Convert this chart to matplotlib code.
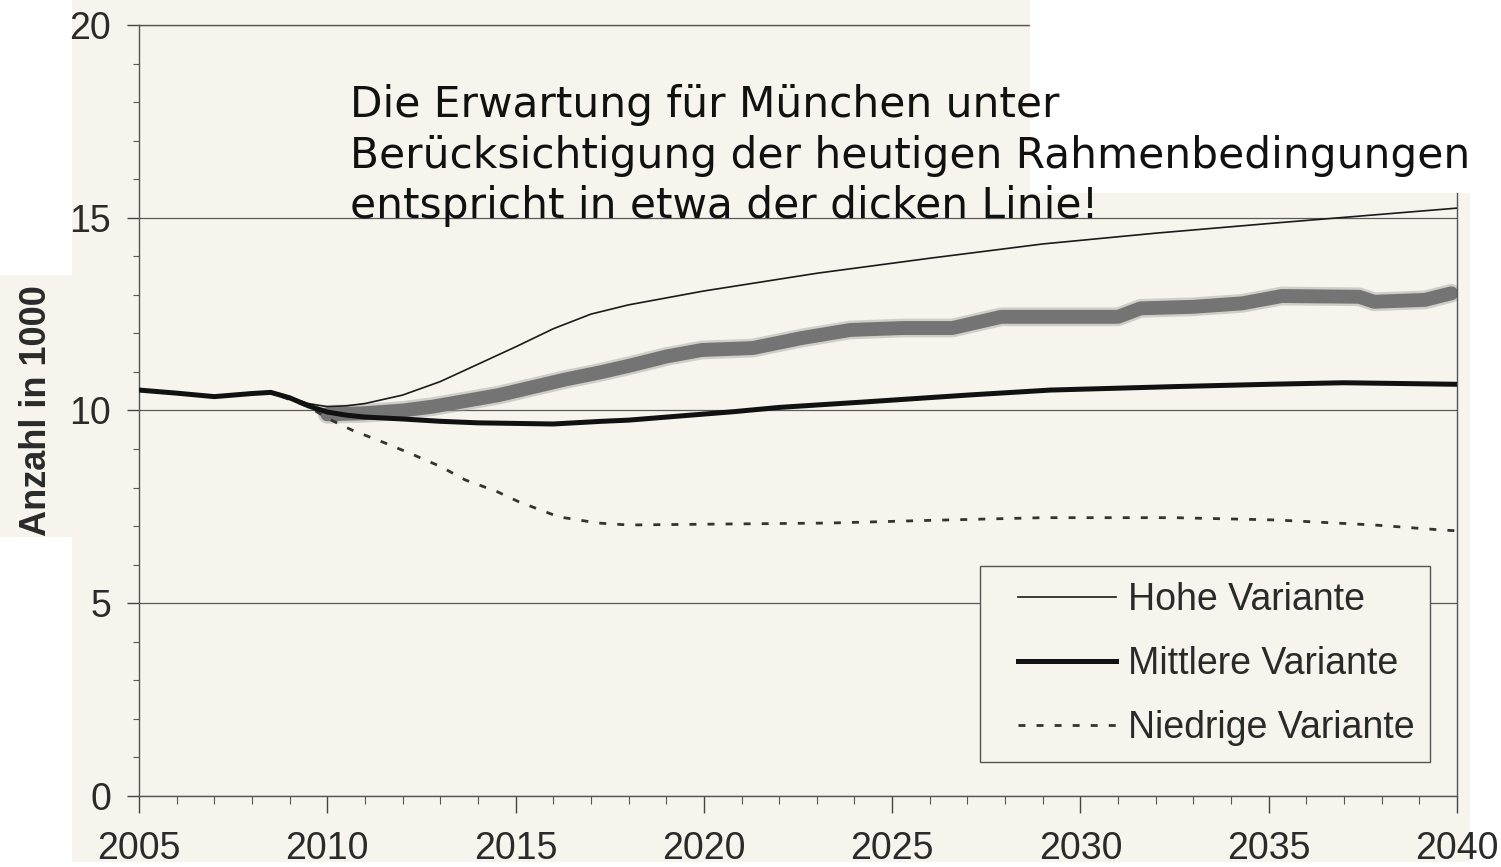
import numpy as np
import matplotlib
matplotlib.use("Agg")
import matplotlib.pyplot as plt
from matplotlib.patches import Rectangle
from matplotlib.lines import Line2D
from matplotlib.legend_handler import HandlerLine2D
from matplotlib.ticker import MultipleLocator

hohe_jahre = [2005, 2006, 2007, 2008, 2008.5, 2009, 2009.5, 2010, 2010.5, 2011, 2012, 2013,
              2014, 2015, 2016, 2017, 2018, 2020, 2023, 2026, 2029, 2032, 2035, 2040]
hohe_werte = [10.53, 10.45, 10.36, 10.44, 10.47, 10.35, 10.18, 10.1, 10.12, 10.18, 10.4, 10.75,
              11.2, 11.65, 12.12, 12.5, 12.74, 13.1, 13.56, 13.95, 14.32, 14.6, 14.85, 15.25]

mittel_jahre = [2005, 2006, 2007, 2008, 2008.5, 2009, 2009.5, 2010, 2010.5, 2011, 2012, 2013,
                2014, 2016, 2017.3, 2018, 2020.8, 2022, 2024.4, 2027, 2029.2, 2032.5, 2035, 2037, 2040]
mittel_werte = [10.53, 10.45, 10.36, 10.44, 10.47, 10.33, 10.12, 9.96, 9.88, 9.83, 9.78, 9.72,
                9.68, 9.65, 9.72, 9.75, 9.97, 10.08, 10.23, 10.4, 10.53, 10.62, 10.68, 10.72, 10.68]

niedrig_jahre = [2005, 2007, 2008.5, 2009.5, 2010, 2010.66, 2011.5, 2012.17, 2013, 2013.66, 2014.5,
                 2015.09, 2016.15, 2017.2, 2018, 2020, 2023.3, 2026, 2029, 2032.5, 2035.2, 2037.8, 2039.6, 2040]
niedrig_werte = [10.53, 10.36, 10.47, 10.1, 9.8, 9.49, 9.17, 8.9, 8.55, 8.2, 7.9,
                 7.63, 7.24, 7.08, 7.03, 7.05, 7.08, 7.15, 7.22, 7.22, 7.16, 7.03, 6.9, 6.88]

# handgezeichnete dicke Linie
dick_jahre = [2010, 2011, 2012, 2012.8, 2014.56, 2016.3, 2017.3, 2018.1, 2019, 2019.95, 2021.3,
              2022.6, 2023.9, 2025.3, 2026.6, 2027.9, 2029.2, 2031, 2031.6, 2033, 2034.3, 2035.35,
              2037.4, 2037.8, 2039.15, 2039.85]
dick_werte = [9.9, 9.93, 10.0, 10.1, 10.4, 10.8, 11.0, 11.18, 11.4, 11.57, 11.62,
              11.88, 12.09, 12.14, 12.14, 12.43, 12.43, 12.43, 12.65, 12.69, 12.78, 12.97,
              12.95, 12.82, 12.87, 13.04]

x_ticks = [2005, 2010, 2015, 2020, 2025, 2030, 2035, 2040]
y_ticks = [0, 5, 10, 15, 20]
legend_labels = ["Hohe Variante", "Mittlere Variante", "Niedrige Variante"]
hinweis = ("Die Erwartung für München unter\n"
           "Berücksichtigung der heutigen Rahmenbedingungen\n"
           "entspricht in etwa der dicken Linie!")

W, H = 1501, 867
beige = "#f6f4ec"

def px_rect(x, y, w, h, **kw):
    # Rechteck in Pixeln (oben links) -> Figurkoordinaten
    return Rectangle((x / W, 1 - (y + h) / H), w / W, h / H,
                     transform=fig.transFigure, **kw)

plt.rcParams['font.family'] = ['Liberation Sans', 'DejaVu Sans']

fig = plt.figure(figsize=(W / 100, H / 100), dpi=100, facecolor="white")
fig.patches.append(px_rect(72, 0, 1398, 862, facecolor=beige, edgecolor="none", zorder=-5))
fig.patches.append(px_rect(0, 275, 80, 262, facecolor=beige, edgecolor="none", zorder=-5))

ax = fig.add_axes([139 / W, 1 - 796 / H, 1318 / W, 771 / H])
ax.set_facecolor(beige)

ax.plot(niedrig_jahre, niedrig_werte, color="#333333", lw=2.0, dashes=(2.5, 4.0),
        label=legend_labels[2], zorder=3)
ax.plot(dick_jahre, dick_werte, color="#a0a0a0", lw=13.5, alpha=0.45,
        solid_capstyle="round", solid_joinstyle="round", zorder=2)
ax.plot(dick_jahre, dick_werte, color="#747474", lw=10,
        solid_capstyle="round", solid_joinstyle="round", zorder=2.5)
ax.plot(hohe_jahre, hohe_werte, color="#1a1a1a", lw=1.2, label=legend_labels[0], zorder=4)
ax.plot(mittel_jahre, mittel_werte, color="#111111", lw=3.6, label=legend_labels[1], zorder=5)

ax.set_xlim(2005, 2040)
ax.set_ylim(0, 20)
ax.set_xticks(x_ticks)
ax.set_yticks(y_ticks)
ax.xaxis.set_minor_locator(MultipleLocator(1))
ax.yaxis.set_minor_locator(MultipleLocator(1))
ax.tick_params(axis="x", which="major", length=12, width=1, color="#444444", pad=13,
               labelsize=27, labelcolor="#2a2a2a")
ax.tick_params(axis="x", which="minor", length=6, width=0.8, color="#555555")
ax.tick_params(axis="y", which="major", length=9, width=1, color="#444444", pad=11,
               labelsize=27, labelcolor="#2a2a2a")
ax.tick_params(axis="y", which="minor", length=4, width=0.8, color="#555555")
ax.grid(axis="y", which="major", color="#5a5a5a", lw=0.9)
ax.set_axisbelow(True)
for s in ax.spines.values():
    s.set_color("#555555")
    s.set_linewidth(1.0)

ax.set_ylabel("Anzahl in 1000", fontsize=26, fontweight="bold", color="#2a2a2a")
ax.yaxis.set_label_coords((54 - 139) / 1318, 0.5)

handles, labels = ax.get_legend_handles_labels()
order = [labels.index(l) for l in legend_labels]
leg = ax.legend([handles[i] for i in order], [labels[i] for i in order],
                loc="lower right", bbox_to_anchor=((1430 - 139) / 1318, (796 - 762) / 771),
                borderaxespad=0, fontsize=27, handlelength=3.2, handletextpad=0.32,
                labelspacing=0.75, borderpad=0.42, fancybox=False, framealpha=1,
                facecolor=beige, edgecolor="#555555",
                handler_map={Line2D: HandlerLine2D(xpad=0.6)})
leg.get_frame().set_linewidth(1.0)
for t in leg.get_texts():
    t.set_color("#2a2a2a")

# weisser Papierbereich oben rechts mit dem Hinweistext
fig.patches.append(px_rect(1030, 0, 471, 193, facecolor="white", edgecolor="none", zorder=1))
fig.text(350 / W, 1 - 84 / H, hinweis, family="DejaVu Sans", fontsize=30.4,
         color="#111111", ha="left", va="top", linespacing=1.26, zorder=3)

fig.savefig("out.png", dpi=100, facecolor=fig.get_facecolor())
